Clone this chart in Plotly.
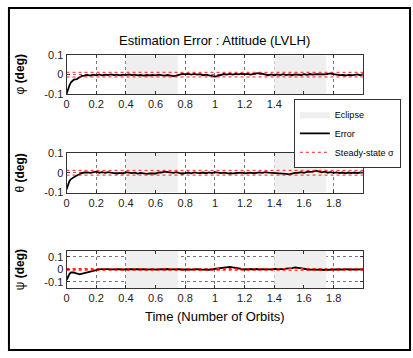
import plotly.graph_objects as go

# ---------------- data ----------------
t = [0.00, 0.01, 0.02, 0.03, 0.04, 0.05, 0.06, 0.07, 0.08, 0.09, 0.10,
     0.12, 0.14, 0.16, 0.18, 0.20, 0.22, 0.24, 0.26, 0.28, 0.30,
     0.32, 0.34, 0.36, 0.38, 0.40, 0.42, 0.44, 0.46, 0.48, 0.50,
     0.52, 0.54, 0.56, 0.58, 0.60, 0.62, 0.64, 0.66, 0.68, 0.70,
     0.72, 0.74, 0.76, 0.78, 0.80, 0.82, 0.84, 0.86, 0.88, 0.90,
     0.92, 0.94, 0.96, 0.98, 1.00, 1.02, 1.04, 1.06, 1.08, 1.10,
     1.12, 1.14, 1.16, 1.18, 1.20, 1.22, 1.24, 1.26, 1.28, 1.30,
     1.32, 1.34, 1.36, 1.38, 1.40, 1.42, 1.44, 1.46, 1.48, 1.50,
     1.52, 1.54, 1.56, 1.58, 1.60, 1.62, 1.64, 1.66, 1.68, 1.70,
     1.72, 1.74, 1.76, 1.78, 1.80, 1.82, 1.84, 1.86, 1.88, 1.90,
     1.92, 1.94, 1.96, 1.98, 2.00]

phi_err = [-0.100, -0.075, -0.055, -0.040, -0.030, -0.026, -0.024, -0.023, -0.018, -0.012, -0.008,
           -0.005, -0.001, -0.005, 0.000, -0.004, 0.001, -0.004, 0.000, -0.003, 0.001,
           -0.003, 0.000, -0.004, 0.000, -0.003, 0.001, -0.003, 0.000, -0.004, -0.001,
           -0.005, -0.002, -0.004, -0.001, -0.004, 0.000, -0.003, -0.005, -0.002, -0.006,
           -0.008, -0.005, -0.001, 0.004, 0.001, 0.004, 0.000, 0.004, 0.000, 0.002,
           -0.003, 0.000, -0.004, -0.007, -0.010, -0.006, -0.001, 0.003, 0.000, 0.004,
           0.000, 0.004, 0.001, 0.005, 0.001, 0.004, 0.000, 0.005, 0.007, 0.008,
           0.004, 0.001, -0.003, 0.001, -0.003, 0.001, -0.002, 0.002, -0.002, 0.001,
           -0.003, 0.001, 0.000, -0.002, 0.002, -0.001, 0.003, 0.000, 0.002, 0.001,
           0.003, 0.001, 0.004, 0.006, 0.002, 0.000, -0.003, -0.001, -0.005, -0.001,
           -0.004, -0.001, 0.001, -0.003, 0.002]

theta_err = [-0.085, -0.060, -0.042, -0.032, -0.026, -0.022, -0.018, -0.014, -0.010, -0.006, -0.003,
             0.001, 0.002, -0.001, 0.002, 0.005, 0.000, 0.003, -0.001, 0.003, 0.000,
             -0.003, -0.005, -0.001, -0.004, 0.003, -0.001, -0.002, 0.000, -0.004, -0.001,
             -0.005, -0.006, -0.003, -0.002, -0.004, 0.001, 0.001, 0.005, 0.002, 0.002,
             -0.001, 0.003, -0.002, -0.006, -0.002, 0.001, -0.003, 0.002, -0.001, -0.002,
             0.001, -0.003, 0.002, -0.002, 0.003, -0.001, -0.002, 0.000, -0.004, -0.005,
             -0.003, -0.002, -0.004, 0.000, -0.003, -0.001, 0.000, -0.003, 0.000, 0.002,
             -0.001, 0.003, 0.000, -0.001, 0.001, -0.003, -0.004, -0.002, -0.006, -0.008,
             -0.004, -0.001, -0.001, 0.003, -0.001, 0.004, 0.004, 0.005, 0.010, 0.007,
             0.002, 0.005, 0.000, 0.003, -0.001, 0.002, -0.002, 0.001, -0.003, 0.001,
             -0.002, 0.001, -0.002, 0.001, 0.000]

psi_err = [-0.085, -0.055, -0.035, -0.025, -0.022, -0.025, -0.030, -0.033, -0.038, -0.040, -0.036,
           -0.030, -0.022, -0.015, -0.008, -0.003, 0.000, 0.002, -0.001, 0.002, 0.000,
           -0.002, 0.001, 0.001, -0.002, 0.001, 0.002, -0.001, -0.001, 0.002, -0.001,
           0.002, -0.002, 0.001, 0.002, -0.002, 0.001, 0.002, -0.001, 0.003, 0.000,
           0.002, -0.002, 0.001, -0.003, 0.000, 0.001, -0.002, 0.001, 0.002, -0.001,
           -0.002, 0.000, -0.003, 0.001, 0.004, 0.010, 0.012, 0.015, 0.018, 0.020,
           0.015, 0.010, 0.005, 0.002, -0.001, 0.003, 0.000, 0.001, 0.003, -0.001,
           0.002, 0.000, 0.003, 0.000, 0.004, 0.002, 0.005, 0.002, 0.006, 0.006,
           0.010, 0.015, 0.010, 0.005, 0.002, 0.001, -0.001, 0.000, -0.001, -0.002,
           -0.003, -0.005, -0.003, -0.002, 0.001, -0.003, 0.001, -0.002, 0.002, -0.001,
           -0.001, 0.002, -0.001, 0.000, 0.000]

eclipse_start = [0.4, 1.4]
eclipse_end = [0.75, 1.75]
sigma = [0.012, 0.012, 0.007]
y_ranges = [[-0.1, 0.1], [-0.1, 0.1], [-0.15, 0.15]]
y_labels = ["φ <b>(deg)</b>", "θ <b>(deg)</b>", "ψ <b>(deg)</b>"]
x_ticks = [0, 0.2, 0.4, 0.6, 0.8, 1, 1.2, 1.4, 1.6, 1.8]
x_ticktext = ["0", "0.2", "0.4", "0.6", "0.8", "1", "1.2", "1.4", "1.6", "1.8"]
y_ticks = [-0.1, 0, 0.1]
y_ticktext = ["-0.1", "0", "0.1"]
title = "Estimation Error : Attitude (LVLH)"
x_title = "Time (Number of Orbits)"

series = [phi_err, theta_err, psi_err]

# ---------------- layout geometry ----------------
W, H = 413, 358
px_x0, px_x1 = 64, 363
panels_px = [(51, 91), (152, 193), (253, 292)]

def py(p):
    return 1 - p / H

FONT = "Liberation Sans, Arial, sans-serif"
NARROW = "Liberation Sans Narrow, Liberation Sans, Arial, sans-serif"

fig = go.Figure()

for i in range(3):
    xa = "x" if i == 0 else f"x{i+1}"
    ya = "y" if i == 0 else f"y{i+1}"
    lo, hi = y_ranges[i]
    for k, (a, b) in enumerate(zip(eclipse_start, eclipse_end)):
        fig.add_trace(go.Scatter(
            x=[a, a, b, b, a], y=[lo, hi, hi, lo, lo], mode="lines",
            fill="toself", fillcolor="#efefef", line=dict(width=0, color="#efefef"),
            name="Eclipse", legendgroup="eclipse",
            showlegend=(i == 0 and k == 0), hoverinfo="skip",
            xaxis=xa, yaxis=ya))
    fig.add_trace(go.Scatter(
        x=t, y=series[i], mode="lines", line=dict(color="black", width=1.8),
        name="Error", legendgroup="err", showlegend=(i == 0),
        xaxis=xa, yaxis=ya))
    s = sigma[i]
    fig.add_trace(go.Scatter(
        x=[0, 2, None, 0, 2], y=[s, s, None, -s, -s], mode="lines",
        line=dict(color="#ff2020", width=1, dash="dot"),
        name="Steady-state σ", legendgroup="sig", showlegend=(i == 0),
        xaxis=xa, yaxis=ya))

axis_common = dict(
    showline=True, linecolor="#333333", linewidth=1, mirror="ticks",
    ticks="inside", ticklen=3, tickcolor="#333333",
    showgrid=True, gridcolor="#777777", griddash="dot", gridwidth=0.6,
    zeroline=False, tickfont=dict(family=NARROW, size=11, color="#222222"),
)

layout_axes = {}
for i in range(3):
    top, bot = panels_px[i]
    xk = "xaxis" if i == 0 else f"xaxis{i+1}"
    yk = "yaxis" if i == 0 else f"yaxis{i+1}"
    layout_axes[xk] = dict(axis_common, domain=[px_x0 / W, px_x1 / W], range=[0, 2],
                           tickvals=x_ticks, ticktext=x_ticktext,
                           anchor="y" if i == 0 else f"y{i+1}")
    layout_axes[yk] = dict(axis_common, domain=[py(bot), py(top)], range=y_ranges[i],
                           tickvals=y_ticks, ticktext=y_ticktext,
                           anchor="x" if i == 0 else f"x{i+1}")

annotations = [
    dict(text=title, x=(px_x0 + px_x1) / 2 / W, y=py(36), xref="paper", yref="paper",
         showarrow=False, xanchor="center", yanchor="middle",
         font=dict(family=FONT, size=13, color="black")),
    dict(text=x_title, x=(px_x0 + px_x1) / 2 / W, y=py(321), xref="paper", yref="paper",
         showarrow=False, xanchor="center", yanchor="middle",
         font=dict(family=FONT, size=13, color="black")),
]
for i in range(3):
    top, bot = panels_px[i]
    annotations.append(dict(
        text=y_labels[i], x=17 / W, y=py((top + bot) / 2), xref="paper", yref="paper",
        showarrow=False, xanchor="center", yanchor="middle", textangle=-90,
        font=dict(family=FONT, size=12, color="black")))

fig.update_layout(
    width=W, height=H, margin=dict(l=0, r=0, t=0, b=0),
    paper_bgcolor="white", plot_bgcolor="white",
    showlegend=True,
    legend=dict(x=293 / W, y=py(96), xanchor="left", yanchor="top",
                bgcolor="white", bordercolor="#333333", borderwidth=1,
                font=dict(family=NARROW, size=9, color="black"),
                tracegroupgap=0, itemwidth=30),
    annotations=annotations,
    shapes=[dict(type="rect", xref="paper", yref="paper",
                 x0=6 / W, x1=410 / W, y0=py(356), y1=py(2),
                 line=dict(color="black", width=2))],
    **layout_axes,
)

fig.write_html("out.html")
